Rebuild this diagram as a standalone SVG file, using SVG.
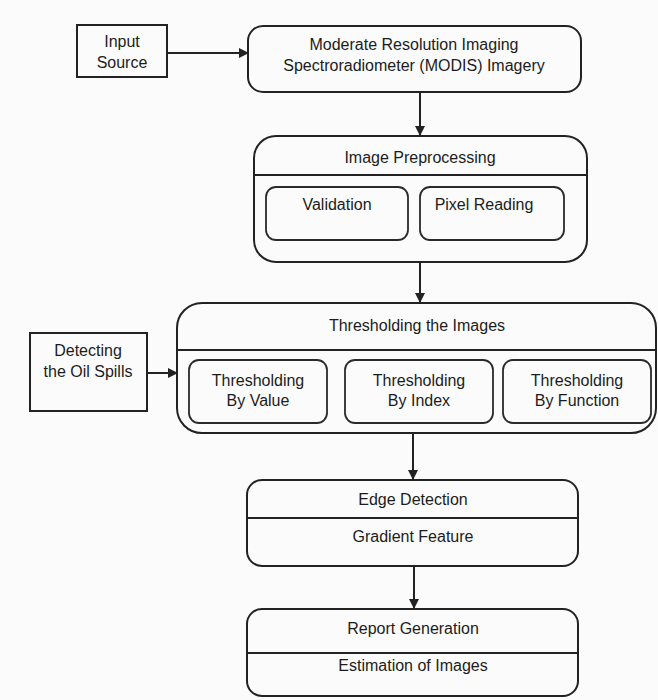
<svg xmlns="http://www.w3.org/2000/svg" width="658" height="700" viewBox="0 0 658 700">
<defs>
<style>
.bx{fill:none;stroke:#222;stroke-width:2}
.sb{fill:none;stroke:#2a2a2a;stroke-width:1.8}
.ln{stroke:#222;stroke-width:2;fill:none}
text{font-family:"Liberation Sans",Arial,sans-serif;font-size:16px;fill:#1c1c1c;text-anchor:middle}
</style>
<marker id="ah" markerWidth="10" markerHeight="10" refX="9" refY="5" orient="auto" markerUnits="userSpaceOnUse">
<path d="M0,0 L10,5 L0,10 z" fill="#222"/>
</marker>
</defs>
<rect width="658" height="700" fill="#fbfbfb"/>
<g id="connectors">
<line class="ln" x1="167" y1="53" x2="248" y2="53" marker-end="url(#ah)"/>
<line class="ln" x1="420" y1="92" x2="420" y2="135" marker-end="url(#ah)"/>
<line class="ln" x1="420" y1="262" x2="420" y2="302" marker-end="url(#ah)"/>
<line class="ln" x1="147" y1="373" x2="177" y2="373" marker-end="url(#ah)"/>
<line class="ln" x1="413" y1="433" x2="413" y2="479" marker-end="url(#ah)"/>
<line class="ln" x1="414" y1="566" x2="414" y2="608" marker-end="url(#ah)"/>
</g>
<g id="input-source">
<rect class="bx" x="77" y="25" width="90" height="52"/>
<text x="122" y="47">Input</text>
<text x="122" y="68">Source</text>
</g>
<g id="modis">
<rect class="bx" x="248" y="26" width="333" height="66" rx="15"/>
<text x="414" y="50">Moderate Resolution Imaging</text>
<text x="414" y="71">Spectroradiometer (MODIS) Imagery</text>
</g>
<g id="image-preprocessing">
<rect class="bx" x="254" y="136" width="333" height="126" rx="22"/>
<line class="bx" x1="254" y1="175" x2="587" y2="175"/>
<text x="420" y="163">Image Preprocessing</text>
</g>
<g id="validation">
<rect class="sb" x="266" y="187" width="142" height="53" rx="10"/>
<text x="337" y="210">Validation</text>
</g>
<g id="pixel-reading">
<rect class="sb" x="420" y="187" width="144" height="53" rx="10"/>
<text x="484" y="210">Pixel Reading</text>
</g>
<g id="detecting-oil-spills">
<rect class="bx" x="30" y="333" width="117" height="78"/>
<text x="88" y="356">Detecting</text>
<text x="88" y="377">the Oil Spills</text>
</g>
<g id="thresholding">
<rect class="bx" x="177" y="303" width="479" height="130" rx="25"/>
<line class="bx" x1="177" y1="350" x2="656" y2="350"/>
<text x="417" y="331">Thresholding the Images</text>
</g>
<g id="by-value">
<rect class="sb" x="189" y="360" width="138" height="63" rx="10"/>
<text x="258" y="386">Thresholding</text>
<text x="258" y="406">By Value</text>
</g>
<g id="by-index">
<rect class="sb" x="345" y="360" width="148" height="63" rx="10"/>
<text x="419" y="386">Thresholding</text>
<text x="419" y="406">By Index</text>
</g>
<g id="by-function">
<rect class="sb" x="503" y="360" width="148" height="63" rx="10"/>
<text x="577" y="386">Thresholding</text>
<text x="577" y="406">By Function</text>
</g>
<g id="edge-detection">
<rect class="bx" x="247" y="480" width="331" height="86" rx="15"/>
<line class="bx" x1="247" y1="518" x2="578" y2="518"/>
<text x="413" y="505">Edge Detection</text>
<text x="413" y="542">Gradient Feature</text>
</g>
<g id="report-generation">
<rect class="bx" x="247" y="609" width="331" height="87" rx="15"/>
<line class="bx" x1="247" y1="653" x2="578" y2="653"/>
<text x="413" y="634">Report Generation</text>
<text x="413" y="671">Estimation of Images</text>
</g>
</svg>
